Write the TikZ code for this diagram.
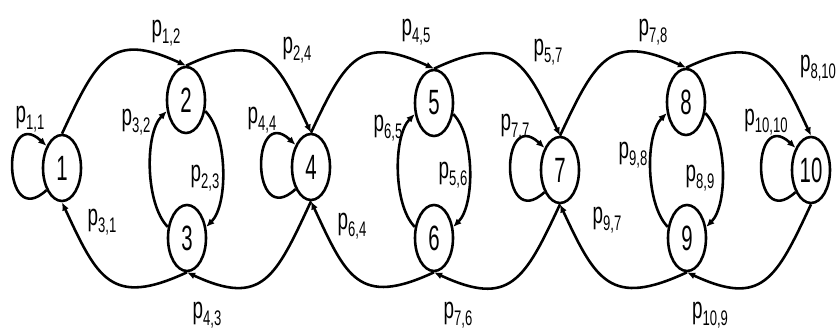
\documentclass[tikz,border=0pt]{standalone}
\usepackage{fontspec}
\setmainfont{Liberation Sans}
\usepackage{graphicx}
\usetikzlibrary{arrows.meta,shapes.geometric}

\newcommand{\plab}[1]{\scalebox{0.62}[1]{p\raisebox{-0.25em}{\fontsize{18}{18}\selectfont #1}}}
\newcommand{\snum}[1]{\scalebox{0.58}[1]{#1}}

\begin{document}
\begin{tikzpicture}[x=0.03cm,y=0.03cm,>={Latex[length=7pt,width=6pt]},
  st/.style={draw,ellipse,line width=2.2pt,minimum width=1.14cm,minimum height=1.98cm,inner sep=0pt,font=\fontsize{30}{30}\selectfont},
  tr/.style={->,line width=2.2pt},
  lab/.style={inner sep=0pt,font=\fontsize{26}{26}\selectfont}]
  \useasboundingbox (0,0) rectangle (838,331);
  % states
  \node[st] (n1) at (62,163) {\snum{1}};
  \node[st] (n2) at (186,231) {\snum{2}};
  \node[st] (n3) at (187,93) {\snum{3}};
  \node[st] (n4) at (311,164) {\snum{4}};
  \node[st] (n5) at (434,228) {\snum{5}};
  \node[st] (n6) at (434,93) {\snum{6}};
  \node[st] (n7) at (560,161) {\snum{7}};
  \node[st] (n8) at (686,229) {\snum{8}};
  \node[st] (n9) at (687,93) {\snum{9}};
  \node[st] (n10) at (811,161) {\snum{10}};
  % self loops
  \draw[tr] (n1.235) .. controls +(-45,-42) and +(-45,42) .. (n1.125);
  \draw[tr] (n4.235) .. controls +(-45,-42) and +(-45,42) .. (n4.125);
  \draw[tr] (n7.235) .. controls +(-45,-42) and +(-45,42) .. (n7.125);
  \draw[tr] (n10.235) .. controls +(-45,-42) and +(-45,42) .. (n10.125);
  % first block: 1,2,3,4
  \draw[tr] (n1.north) to[out=65,in=155,looseness=1.5] (n2.north);
  \draw[tr] (n2.north) to[out=25,in=115,looseness=1.5] (n4.north);
  \draw[tr] (n4.south) to[out=-115,in=-25,looseness=1.5] (n3.south);
  \draw[tr] (n3.south) to[out=-155,in=-65,looseness=1.5] (n1.south);
  \draw[tr] (n3.150) to[out=135,in=225,looseness=0.7] (n2.210);
  \draw[tr] (n2.-30) to[out=-45,in=45,looseness=0.7] (n3.30);
  % second block: 4,5,6,7
  \draw[tr] (n4.north) to[out=65,in=155,looseness=1.5] (n5.north);
  \draw[tr] (n5.north) to[out=25,in=115,looseness=1.5] (n7.north);
  \draw[tr] (n7.south) to[out=-115,in=-25,looseness=1.5] (n6.south);
  \draw[tr] (n6.south) to[out=-155,in=-65,looseness=1.5] (n4.south);
  \draw[tr] (n6.150) to[out=135,in=225,looseness=0.7] (n5.210);
  \draw[tr] (n5.-30) to[out=-45,in=45,looseness=0.7] (n6.30);
  % third block: 7,8,9,10
  \draw[tr] (n7.north) to[out=65,in=155,looseness=1.5] (n8.north);
  \draw[tr] (n8.north) to[out=25,in=115,looseness=1.5] (n10.north);
  \draw[tr] (n10.south) to[out=-115,in=-25,looseness=1.5] (n9.south);
  \draw[tr] (n9.south) to[out=-155,in=-65,looseness=1.5] (n7.south);
  \draw[tr] (n9.150) to[out=135,in=225,looseness=0.7] (n8.210);
  \draw[tr] (n8.-30) to[out=-45,in=45,looseness=0.7] (n9.30);
  % transition labels
  \node[lab] (l11) at (30,212) {\plab{1,1}};
  \node[lab] (l12) at (166,298) {\plab{1,2}};
  \node[lab] (l24) at (297,281) {\plab{2,4}};
  \node[lab] (l32) at (136,209) {\plab{3,2}};
  \node[lab] (l44) at (262,211) {\plab{4,4}};
  \node[lab] (l23) at (205,153) {\plab{2,3}};
  \node[lab] (l31) at (102,109) {\plab{3,1}};
  \node[lab] (l43) at (207,16) {\plab{4,3}};
  \node[lab] (l45) at (416,299) {\plab{4,5}};
  \node[lab] (l57) at (548,279) {\plab{5,7}};
  \node[lab] (l65) at (388,203) {\plab{6,5}};
  \node[lab] (l77) at (515,204) {\plab{7,7}};
  \node[lab] (l56) at (453,156) {\plab{5,6}};
  \node[lab] (l64) at (352,105) {\plab{6,4}};
  \node[lab] (l76) at (458,16) {\plab{7,6}};
  \node[lab] (l78) at (653,299) {\plab{7,8}};
  \node[lab] (l810) at (818,263) {\plab{8,10}};
  \node[lab] (l98) at (633,176) {\plab{9,8}};
  \node[lab] (l1010) at (766,209) {\plab{10,10}};
  \node[lab] (l89) at (700,153) {\plab{8,9}};
  \node[lab] (l97) at (607,111) {\plab{9,7}};
  \node[lab] (l109) at (710,16) {\plab{10,9}};
\end{tikzpicture}
\end{document}
